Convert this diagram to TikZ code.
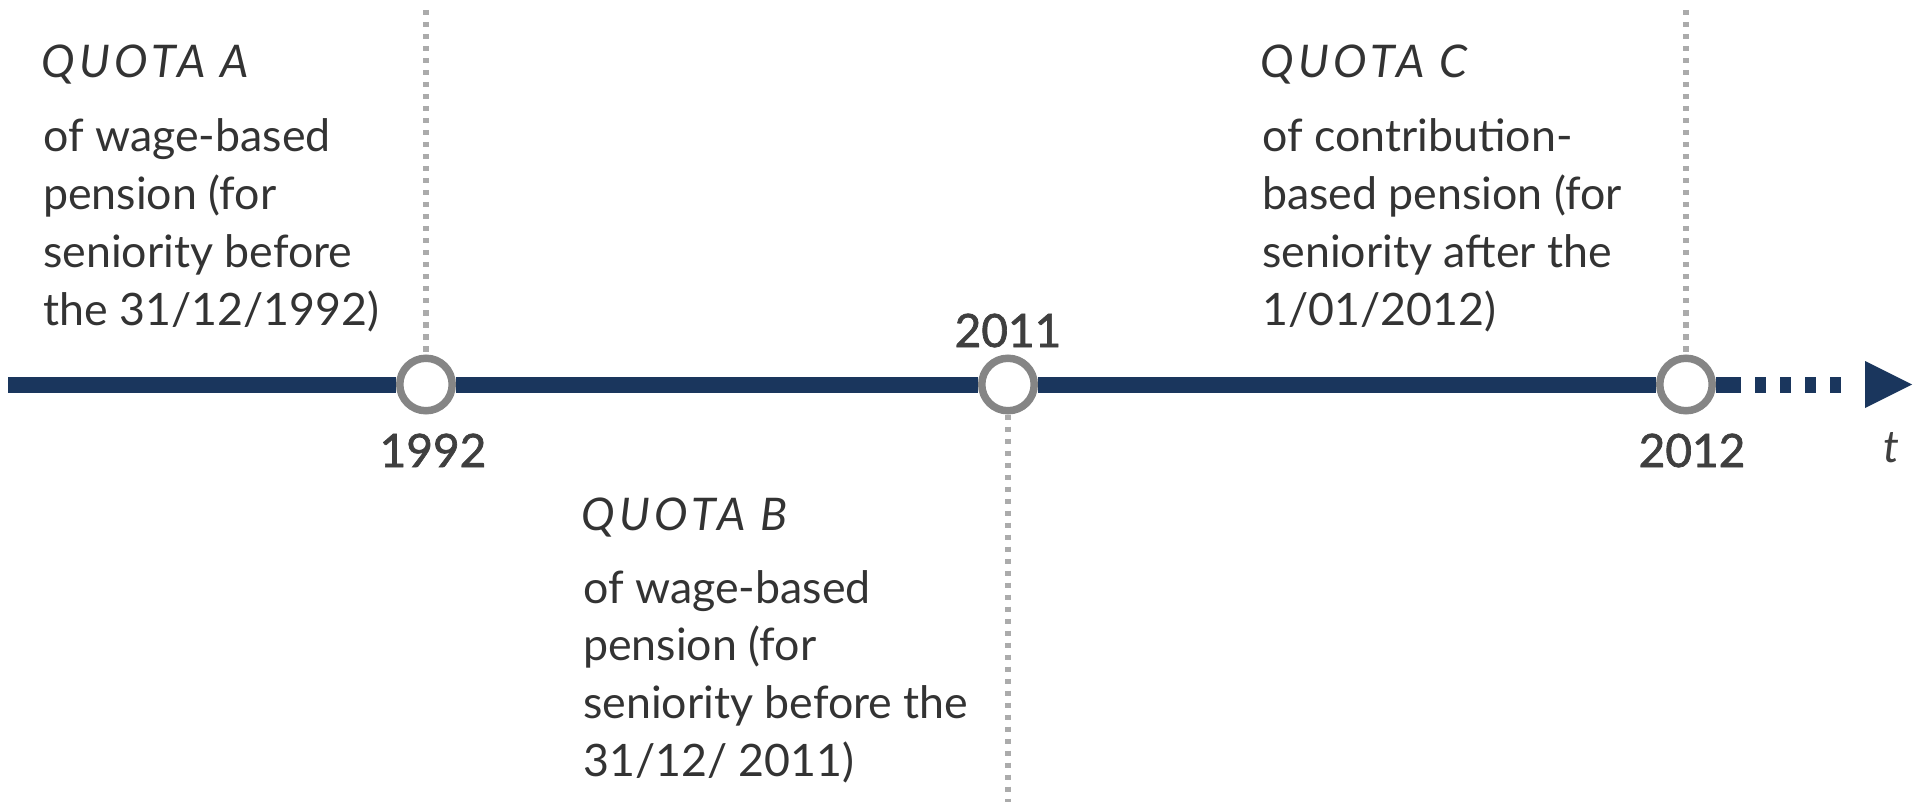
\documentclass[tikz,border=0pt]{standalone}
\usepackage{fontspec}
\usetikzlibrary{calc}
\setmainfont{Lato}
\newfontfamily\yearfont{Lato}[FakeBold=1.5]
\newfontfamily\titlefont{Lato}[LetterSpace=10]
\definecolor{axisblue}{HTML}{1A365D}
\definecolor{ringgray}{HTML}{858585}
\definecolor{dotgray}{HTML}{ABABAB}
\definecolor{textgray}{HTML}{333333}
\definecolor{yeargray}{HTML}{3F3F3F}
\begin{document}
\begin{tikzpicture}[x=1pt,y=-1pt,
  bodyline/.style={anchor=base west, inner sep=0pt, text=textgray,
    font=\fontsize{44.7}{57.7}\selectfont},
  quotatitle/.style={anchor=base west, inner sep=0pt, text=textgray,
    font=\titlefont\fontsize{45}{50}\selectfont\itshape},
  yearlabel/.style={anchor=base, inner sep=0pt, text=yeargray,
    font=\yearfont\fontsize{46}{50}\selectfont},
  milestone/.style={circle, draw=ringgray, fill=white, line width=7.5pt,
    minimum size=52.5pt, inner sep=0pt},
  guide/.style={draw=dotgray, line width=5.5pt, dash pattern=on 5.5pt off 6.5pt},
  axisline/.style={draw=axisblue, line width=16pt}]
\useasboundingbox (0,0) rectangle (1919,802);

% time axis
\coordinate (start) at (8,384.5);
\coordinate (solidend) at (1741,384.5);
\coordinate (dashend) at (1841,384.5);
\coordinate (tipbase) at (1865,384.5);
\coordinate (tip) at (1912,384.5);

% vertical guides end points
\coordinate (gA) at (426,10);
\coordinate (gC) at (1686,10);
\coordinate (gB) at (1008,802);

\node[milestone] (m1992) at (426,384.5) {};
\node[milestone] (m2011) at (1008,384.5) {};
\node[milestone] (m2012) at (1686,384.5) {};

\draw[axisline] (start) -- (m1992);
\draw[axisline] (m1992) -- (m2011);
\draw[axisline] (m2011) -- (m2012);
\draw[axisline] (m2012) -- (solidend);
\draw[axisline, dash pattern=on 10.7pt off 14.3pt, dash phase=10.7pt] (solidend) -- (dashend);
\fill[axisblue] ($(tipbase)+(0,-23.5)$) -- (tip) -- ($(tipbase)+(0,23.5)$) -- cycle;

\draw[guide] (gA) -- (m1992);
\draw[guide] (gC) -- (m2012);
\draw[guide] (m2011) -- (gB);

% years
\node[yearlabel] (y1992) at (433,467) {1992};
\node[yearlabel] (y2011) at (1008,347) {2011};
\node[yearlabel] (y2012) at (1692,467) {2012};
\node[anchor=base, inner sep=0pt, text=yeargray, font=\fontsize{44.7}{50}\selectfont\itshape] (tlabel) at (1891,462) {t};

% quota A
\node[quotatitle] (qa) at (41,78) {QUOTA A};
\foreach \txt [count=\i] in {of wage-based, pension (for, seniority before, the 31/12/1992)}
  \node[bodyline] (qa\i) at (43,{152+57.7*(\i-1)}) {\txt};

% quota B
\node[quotatitle] (qb) at (581,530) {QUOTA B};
\foreach \txt [count=\i] in {of wage-based, pension (for, seniority before the, 31/12/ 2011)}
  \node[bodyline] (qb\i) at (583,{603+57.7*(\i-1)}) {\txt};

% quota C
\node[quotatitle] (qc) at (1260,78) {QUOTA C};
\foreach \txt [count=\i] in {of contribution-, based pension (for, seniority after the, 1/01/2012)}
  \node[bodyline] (qc\i) at (1262,{152+57.7*(\i-1)}) {\txt};
\end{tikzpicture}
\end{document}
